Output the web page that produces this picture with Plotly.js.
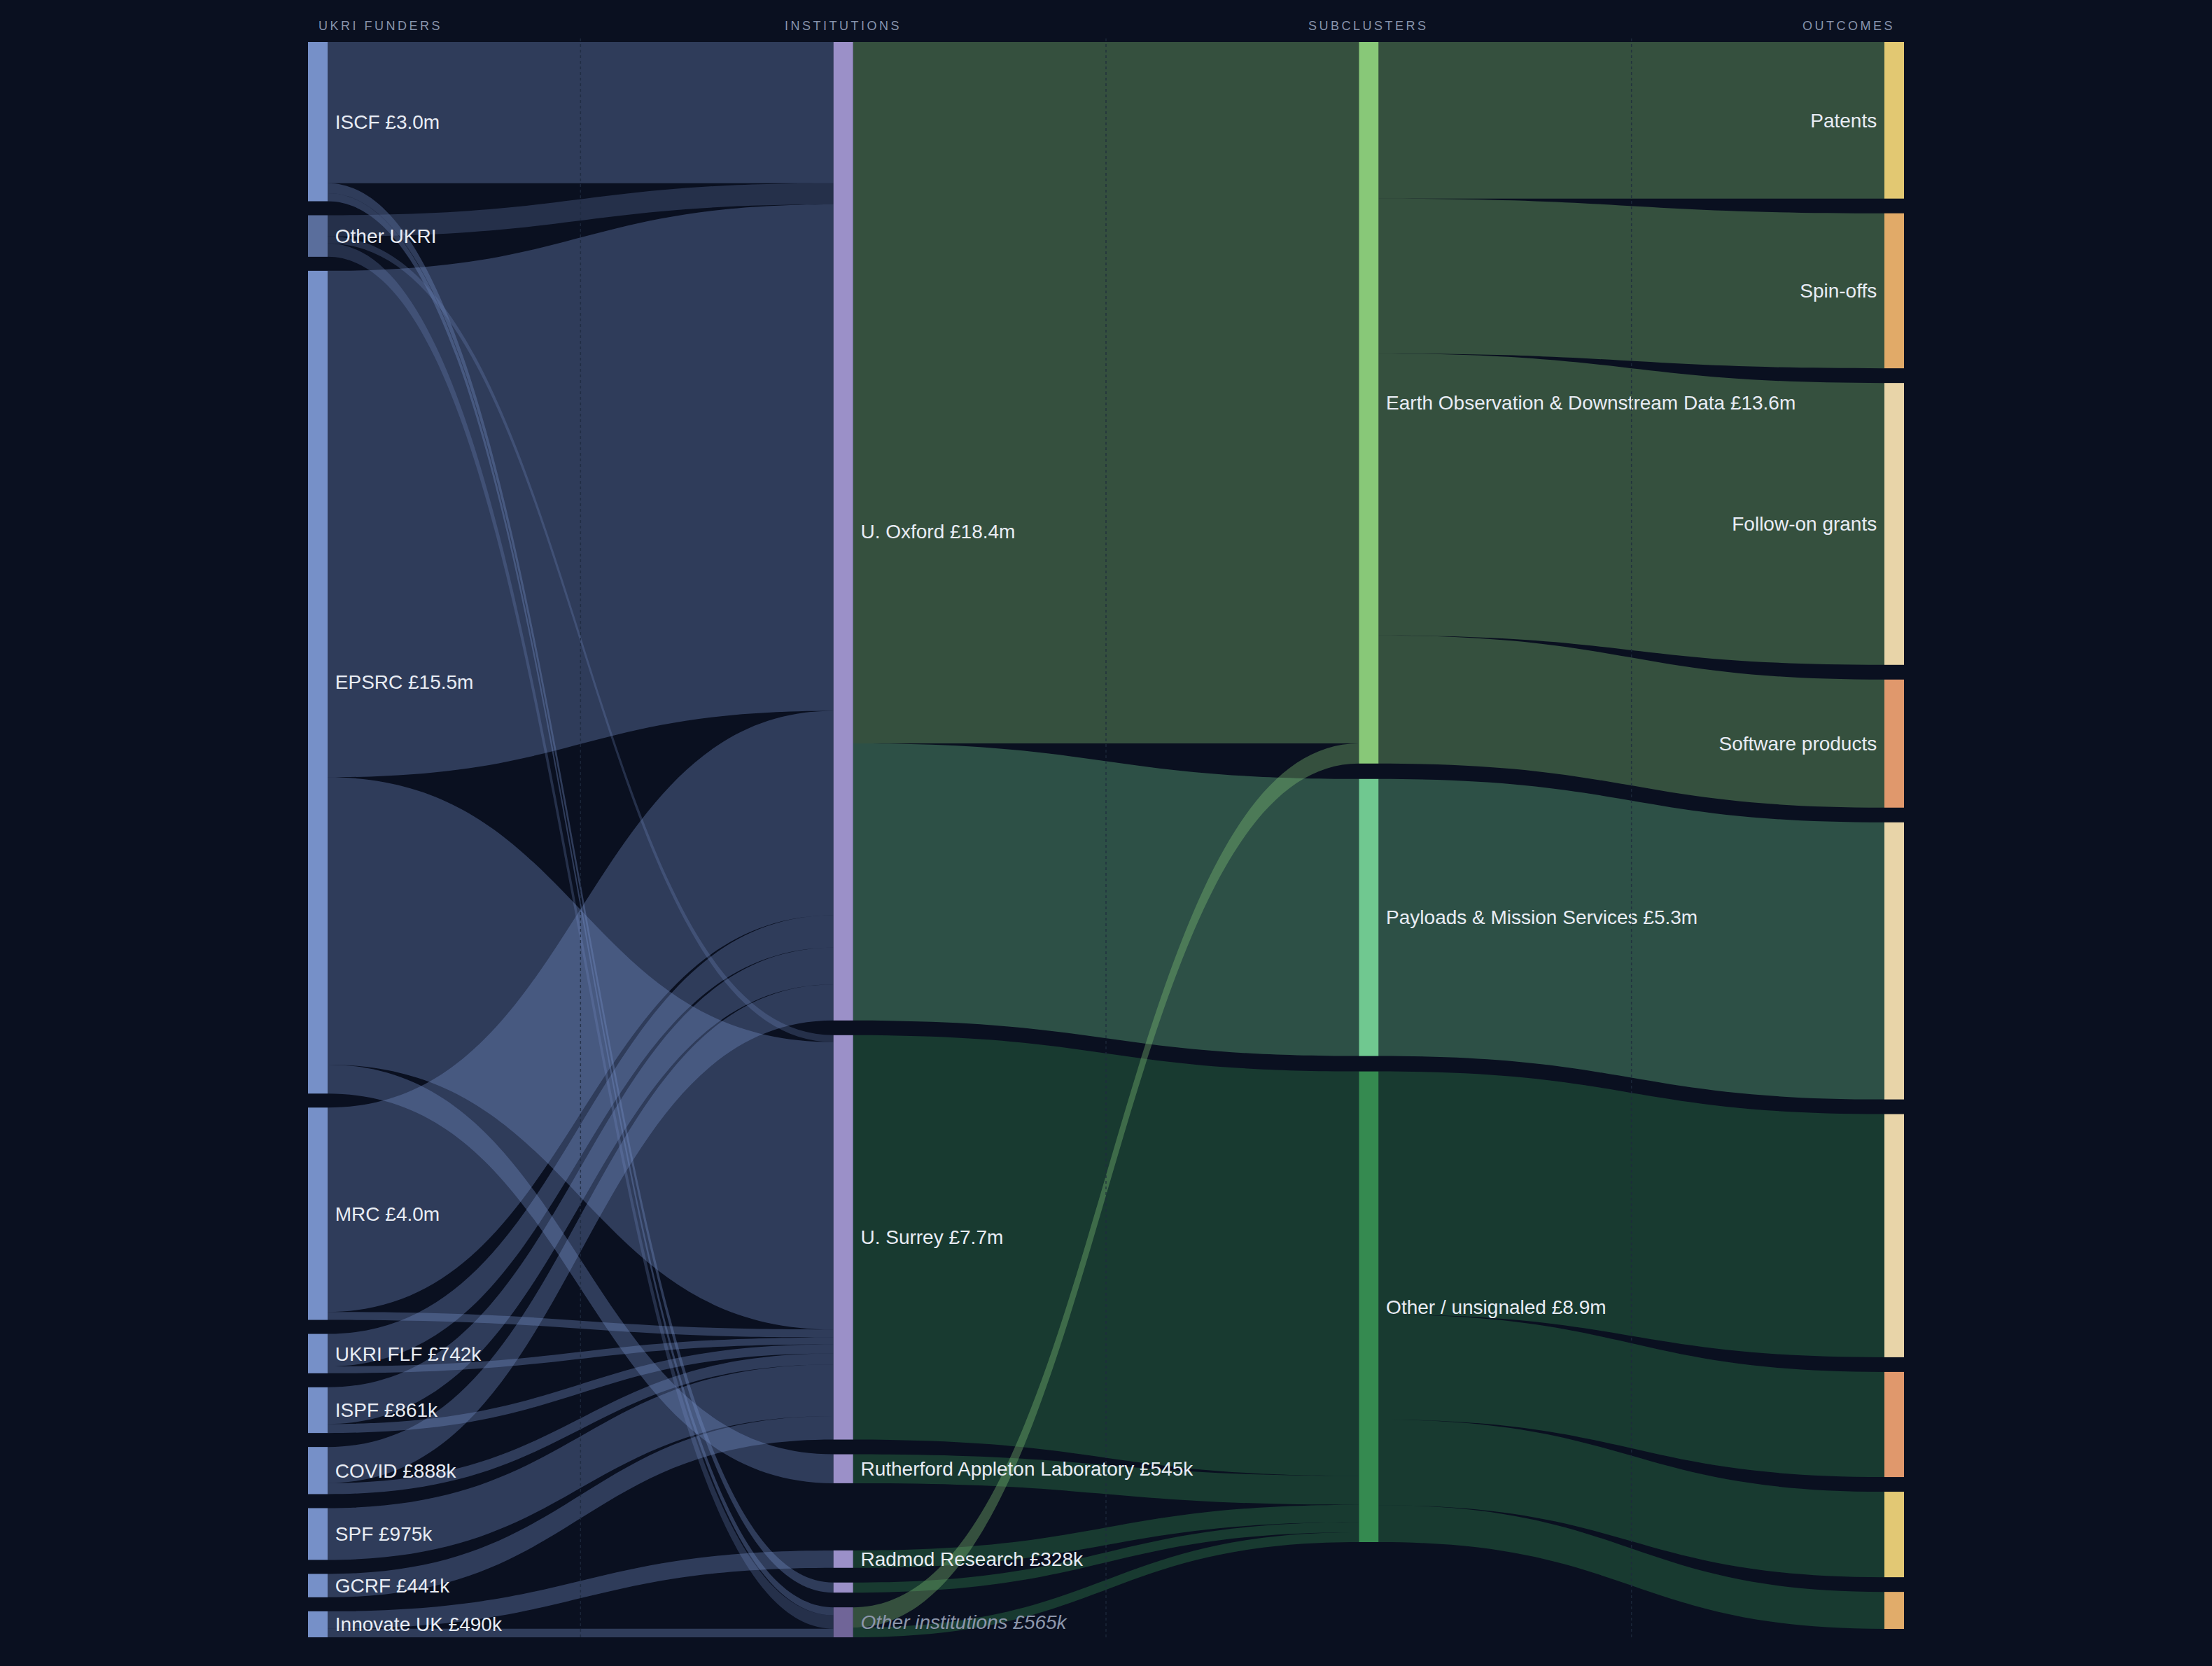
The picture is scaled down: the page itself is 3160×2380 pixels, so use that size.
<!DOCTYPE html>
<html>
<head>
<meta charset="utf-8">
<script src="https://cdn.plot.ly/plotly-3.0.1.min.js"></script>
<style>
  html, body { margin: 0; padding: 0; background: #0a1020; }
  #chart { width: 3160px; height: 2380px; }
</style>
</head>
<body>
<div id="chart"></div>
<script>
// ---------------- DATA ----------------
// Column headers
const columnTitles = ['UKRI FUNDERS', 'INSTITUTIONS', 'SUBCLUSTERS', 'OUTCOMES'];

// Nodes, column by column (ids + shown labels)
const funderIds    = ['ISCF', 'OtherUKRI', 'EPSRC', 'MRC', 'FLF', 'ISPF', 'COVID', 'SPF', 'GCRF', 'InnovateUK'];
const funderLabels = ['ISCF £3.0m', 'Other UKRI', 'EPSRC £15.5m', 'MRC £4.0m', 'UKRI FLF £742k', 'ISPF £861k',
                      'COVID £888k', 'SPF £975k', 'GCRF £441k', 'Innovate UK £490k'];

const instIds    = ['Oxford', 'Surrey', 'RAL', 'Radmod', 'SmallInst', 'OtherInst'];
const instLabels = ['U. Oxford £18.4m', 'U. Surrey £7.7m', 'Rutherford Appleton Laboratory £545k',
                    'Radmod Research £328k', '', 'Other institutions £565k'];

const subIds    = ['EO', 'Payloads', 'OtherSub'];
const subLabels = ['Earth Observation & Downstream Data £13.6m', 'Payloads & Mission Services £5.3m',
                   'Other / unsignaled £8.9m'];

const outIds    = ['Patents', 'Spinoffs', 'FollowOn', 'Software', 'PayFollowOn',
                   'OthFollowOn', 'OthSoftware', 'OthPatents', 'OthSpinoffs'];
const outLabels = ['Patents', 'Spin-offs', 'Follow-on grants', 'Software products', '', '', '', '', ''];

// Links (values in £m)
const linkSource = [
  'ISCF', 'ISCF', 'ISCF',
  'OtherUKRI', 'OtherUKRI', 'OtherUKRI',
  'EPSRC', 'EPSRC', 'EPSRC',
  'MRC', 'MRC',
  'FLF', 'FLF',
  'ISPF', 'ISPF',
  'COVID', 'COVID',
  'SPF',
  'GCRF',
  'InnovateUK', 'InnovateUK',
  'Oxford', 'Oxford',
  'Surrey',
  'RAL',
  'Radmod',
  'SmallInst',
  'OtherInst', 'OtherInst',
  'EO', 'EO', 'EO', 'EO',
  'Payloads',
  'OtherSub', 'OtherSub', 'OtherSub', 'OtherSub'
];
const linkTarget = [
  'Oxford', 'SmallInst', 'OtherInst',
  'Oxford', 'Surrey', 'OtherInst',
  'Oxford', 'Surrey', 'RAL',
  'Oxford', 'Surrey',
  'Oxford', 'Surrey',
  'Oxford', 'Surrey',
  'Oxford', 'Surrey',
  'Surrey',
  'Surrey',
  'Radmod', 'OtherInst',
  'EO', 'Payloads',
  'OtherSub',
  'OtherSub',
  'OtherSub',
  'OtherSub',
  'EO', 'OtherSub',
  'Patents', 'Spinoffs', 'FollowOn', 'Software',
  'PayFollowOn',
  'OthFollowOn', 'OthSoftware', 'OthPatents', 'OthSpinoffs'
];
const linkValue = [
  2.66, 0.19, 0.15,
  0.40, 0.13, 0.253,
  9.54, 5.415, 0.545,
  3.85, 0.15,
  0.612, 0.13,
  0.691, 0.17,
  0.68, 0.208,
  0.975,
  0.441,
  0.328, 0.162,
  13.213, 5.22,
  7.619,
  0.545,
  0.328,
  0.19,
  0.38, 0.185,
  2.95, 2.92, 5.31, 2.413,
  5.22,
  4.58, 1.98, 1.61, 0.697
];

// ---------------- STYLE ----------------
const BG = '#0a1020';
const funderColors = ['#7690c8', '#5a6e9c', '#7690c8', '#7690c8', '#7690c8', '#7690c8', '#7690c8', '#7690c8', '#7690c8', '#7690c8'];
const instColors   = ['#9b90c8', '#9b90c8', '#9b90c8', '#9b90c8', '#9b90c8', '#706598'];
const subColors    = ['#88c878', '#70c890', '#358a50'];
const outColors    = ['#e2c872', '#e1aa68', '#e8d4a8', '#e0986c', '#e8d4a8', '#e8d4a8', '#e0986c', '#e2c874', '#e1ac6a'];
const LINK_ALPHA = 0.35;

const W = 3160, HPX = 2380;
const margin = { l: 440, r: 440, t: 60, b: 41, pad: 0 };
const plotW = W - margin.l - margin.r;
const plotH = HPX - margin.t - margin.b;
const thickness = 28;
const nodePad = 20;
const colGap = [20, 21, 22, 21];
// nodes stacked from the bottom of their column
const bottomStacked = { 1: ['Radmod', 'SmallInst', 'OtherInst'] };

// ---------------- BUILD ----------------
const columns = [funderIds, instIds, subIds, outIds];
const nodeIds = [].concat(...columns);
const labelsRaw = [].concat(funderLabels, instLabels, subLabels, outLabels);
const nodeColors = [].concat(funderColors, instColors, subColors, outColors);
const idx = {};
nodeIds.forEach((id, i) => { idx[id] = i; });

const nIn = nodeIds.map(() => 0), nOut = nodeIds.map(() => 0);
linkSource.forEach((s, i) => { nOut[idx[s]] += linkValue[i]; nIn[idx[linkTarget[i]]] += linkValue[i]; });
const nodeVal = nodeIds.map((_, i) => Math.max(nIn[i], nOut[i]));

const sum = a => a.reduce((p, c) => p + c, 0);
const ky = Math.min(...columns.map(c => (plotH - (c.length - 1) * nodePad) / sum(c.map(id => nodeVal[idx[id]]))));

const nodeX = new Array(nodeIds.length), nodeY = new Array(nodeIds.length);
const colCenters = [];
columns.forEach((col, k) => {
  const cx = (plotW - thickness) * k / (columns.length - 1) + thickness / 2;
  colCenters.push(cx);
  const bottoms = bottomStacked[k] || [];
  const topGroup = col.filter(id => bottoms.indexOf(id) < 0);
  let y = 0;
  topGroup.forEach(id => {
    const h = nodeVal[idx[id]] * ky;
    nodeX[idx[id]] = cx / plotW;
    nodeY[idx[id]] = (y + h / 2) / plotH;
    y += h + colGap[k];
  });
  let yb = plotH;
  bottoms.slice().reverse().forEach(id => {
    const h = nodeVal[idx[id]] * ky;
    nodeX[idx[id]] = cx / plotW;
    nodeY[idx[id]] = (yb - h / 2) / plotH;
    yb -= h + colGap[k];
  });
});

const NB = '\u00a0';
const nodeLabels = labelsRaw.map((lab, i) => {
  if (!lab) return '';
  const id = nodeIds[i];
  const isOut = outIds.indexOf(id) >= 0;
  let txt = lab;
  if (id === 'OtherInst') txt = '<i><span style="color:#8c96ab">' + lab + '</span></i>';
  return isOut ? txt + NB : NB + txt;
});

function rgba(hex, a) {
  const r = parseInt(hex.slice(1, 3), 16), g = parseInt(hex.slice(3, 5), 16), b = parseInt(hex.slice(5, 7), 16);
  return 'rgba(' + r + ',' + g + ',' + b + ',' + a + ')';
}
const linkColors = linkSource.map((s, i) => {
  const t = linkTarget[i];
  let colorId;
  if (funderIds.indexOf(s) >= 0) colorId = s;          // funder -> institution: funder colour
  else if (instIds.indexOf(s) >= 0) colorId = t;       // institution -> subcluster: subcluster colour
  else colorId = s;                                    // subcluster -> outcome: subcluster colour
  return rgba(nodeColors[idx[colorId]], LINK_ALPHA);
});

const trace = {
  type: 'sankey',
  arrangement: 'fixed',
  orientation: 'h',
  hoverinfo: 'none',
  domain: { x: [0, 1], y: [0, 1] },
  textfont: { family: 'Liberation Sans, Arial, sans-serif', size: 28, color: '#e8ecf4', shadow: 'none' },
  node: {
    label: nodeLabels,
    color: nodeColors,
    x: nodeX,
    y: nodeY,
    pad: nodePad,
    thickness: thickness,
    line: { width: 0, color: 'rgba(0,0,0,0)' },
    hoverinfo: 'none'
  },
  link: {
    source: linkSource.map(s => idx[s]),
    target: linkTarget.map(t => idx[t]),
    value: linkValue,
    color: linkColors,
    hoverinfo: 'none'
  }
};

const annotations = columnTitles.map((t, k) => {
  const last = columnTitles.length - 1;
  return {
    xref: 'paper', yref: 'paper',
    x: (colCenters[k] + (k === last ? 3 : (k === 0 ? -1 : 0))) / plotW,
    y: 1 + 23 / plotH,
    xanchor: k === 0 ? 'left' : (k === last ? 'right' : 'center'),
    yanchor: 'middle',
    showarrow: false,
    text: '<span style="letter-spacing:3.5px">' + t + '</span>',
    font: { family: 'Liberation Sans, Arial, sans-serif', size: 18, color: '#8793ab' }
  };
});

const shapes = [];
for (let k = 0; k < colCenters.length - 1; k++) {
  const xm = (colCenters[k] + colCenters[k + 1]) / 2 / plotW;
  shapes.push({
    type: 'line', xref: 'paper', yref: 'paper', layer: 'above',
    x0: xm, x1: xm, y0: 0, y1: 1 + 8 / plotH,
    line: { color: 'rgba(30,42,62,0.8)', width: 1.5, dash: '4px,4px' }
  });
}

const layout = {
  width: W, height: HPX,
  paper_bgcolor: BG, plot_bgcolor: BG,
  margin: margin,
  font: { family: 'Liberation Sans, Arial, sans-serif', color: '#e8ecf4' },
  annotations: annotations,
  shapes: shapes,
  showlegend: false
};

Plotly.newPlot('chart', [trace], layout, { displayModeBar: false, staticPlot: true });
</script>
</body>
</html>
